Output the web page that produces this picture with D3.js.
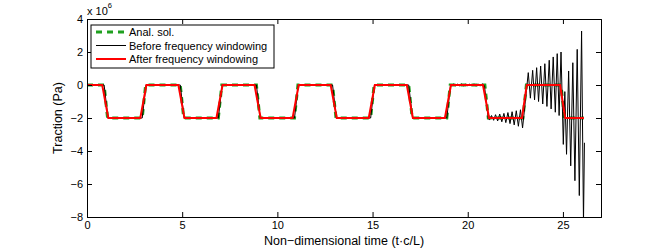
<!DOCTYPE html>
<html><head><meta charset="utf-8">
<script src="https://cdn.jsdelivr.net/npm/d3@7"></script>
<style>body{margin:0;background:#fff}svg{display:block}text{font-family:"Liberation Sans",Arial,Helvetica,sans-serif}</style>
</head><body><svg id="c" width="664" height="249"></svg>
<script>
// values in units of 1e6 Pa
const analT = [0,0.9,1.08,2.9,3.08,4.9,5.08,6.9,7.08,8.9,9.08,10.9,11.08,12.9,13.08,14.9,15.08,16.9,17.08,18.9,19.08,20.9,21.08,22.9,23.08,24.9,25.08,26.1];
const analV = [0,0,-2,-2,0,0,-2,-2,0,0,-2,-2,0,0,-2,-2,0,0,-2,-2,0,0,-2,-2,0,0,-2,-2];

const afterT = [0,0.8,1.12,2.8,3.12,4.8,5.12,6.8,7.12,8.8,9.12,10.8,11.12,12.8,13.12,14.8,15.12,16.8,17.12,18.8,19.12,20.8,21.12,22.85,23.1,24.85,25.12,26.1];
const afterV = [0,0,-2,-2,0,0,-2,-2,0,0,-2,-2,0,0,-2,-2,0,0,-2,-2,0,0,-2,-2,0,0,-2,-2];

const beforeT = [0,0.9,1.1,2.9,3.1,4.9,5.1,6.9,7.1,8.9,9.1,10.9,11.1,12.9,13.1,14.9,15.1,16.9,17.1,18.9,19.1,
  19.15,19.25,19.36,19.46,19.57,19.68,19.79,19.9,20.0,20.11,20.22,20.33,20.44,20.55,20.66,20.77,20.88,
  21.08,21.15,21.25,21.36,21.46,21.57,21.68,21.79,21.9,22.0,22.11,22.22,22.33,22.44,22.55,22.66,22.77,22.88,
  23.18,23.29,23.41,23.51,23.62,23.72,23.83,23.94,24.05,24.16,24.28,24.38,24.49,24.6,24.7,24.8,24.9,
  25.02,25.1,25.19,25.3,25.41,25.52,25.63,25.75,25.86,25.98,26.08,26.13];
const beforeV = [0,0,-2,-2,0,0,-2,-2,0,0,-2,-2,0,0,-2,-2,0,0,-2,-2,0.03,
  -0.04,0.05,-0.05,0.05,-0.05,0.06,-0.05,0.06,-0.06,0.06,-0.06,0.07,-0.07,0.07,-0.07,0.08,-0.06,
  -2.05,-2.1,-1.85,-2.14,-1.8,-2.18,-1.76,-2.23,-1.72,-2.28,-1.67,-2.34,-1.62,-2.42,-1.56,-2.5,-1.5,-2.6,
  0.75,-0.8,0.89,-0.9,1.05,-1.0,1.15,-1.15,1.29,-1.3,1.5,-1.45,1.7,-1.65,1.9,-1.85,2.0,
  -3.6,-0.4,-4.2,0.85,-4.9,1.35,-5.8,2.16,-6.7,3.27,-8.3,-3.5];

const xTicks = [0,5,10,15,20,25];
const yTicks = [-8,-6,-4,-2,0,2,4];
const legendLabels = ["Anal. sol.","Before frequency windowing","After frequency windowing"];

const svg = d3.select("#c");
const L=87,R=601,T=19,B=217;
const x = d3.scaleLinear().domain([0,27]).range([L,R]);
const y = d3.scaleLinear().domain([-8,4]).range([B,T]);

svg.append("clipPath").attr("id","clip").append("rect").attr("x",L).attr("y",T).attr("width",R-L).attr("height",B-T);

const line = d3.line().x(d=>x(d[0])).y(d=>y(d[1]));
const zip = (a,b)=>a.map((t,i)=>[t,b[i]]);
const g = svg.append("g").attr("clip-path","url(#clip)");
g.append("path").attr("d",line(zip(analT,analV))).attr("fill","none").attr("stroke","#1fa01f").attr("stroke-width",3).attr("stroke-dasharray","6,5");
g.append("path").attr("d",line(zip(beforeT,beforeV))).attr("fill","none").attr("stroke","#000").attr("stroke-width",1);
g.append("path").attr("d",line(zip(afterT,afterV))).attr("fill","none").attr("stroke","#ff0000").attr("stroke-width",2);

// axes box
const fmt = d3.format("d");
const ax = svg.append("g").attr("font-size",11);
ax.append("g").attr("transform",`translate(0,${B})`).call(d3.axisBottom(x).tickValues(xTicks).tickSize(-5).tickPadding(4).tickFormat(fmt));
ax.append("g").attr("transform",`translate(0,${T})`).call(d3.axisTop(x).tickValues(xTicks).tickSize(-5).tickFormat(""));
ax.append("g").attr("transform",`translate(${L},0)`).call(d3.axisLeft(y).tickValues(yTicks).tickSize(-5).tickPadding(4).tickFormat(d3.format("d")));
ax.append("g").attr("transform",`translate(${R},0)`).call(d3.axisRight(y).tickValues(yTicks).tickSize(-5).tickFormat(""));
ax.selectAll("text").attr("font-family","Liberation Sans, Arial, sans-serif").attr("fill","#000").attr("font-size",11);
ax.selectAll(".domain").attr("stroke","#000");
ax.selectAll(".tick line").attr("stroke","#000");

// exponent
const ex = svg.append("text").attr("x",87).attr("y",14.5).attr("font-size",11);
ex.append("tspan").text("x 10");
ex.append("tspan").attr("font-size",7.5).attr("dy",-7).text("6");

// labels
svg.append("text").attr("x",(L+R)/2).attr("y",245).attr("text-anchor","middle").attr("font-size",12.5).text("Non\u2212dimensional time (t\u00b7c/L)");
svg.append("text").attr("transform",`translate(62,${(T+B)/2}) rotate(-90)`).attr("text-anchor","middle").attr("font-size",12.5).text("Traction (Pa)");

// legend
const lg = svg.append("g");
lg.append("rect").attr("x",91).attr("y",25).attr("width",183).attr("height",43).attr("fill","#fff").attr("stroke","#000").attr("stroke-width",1);
const rows=[32,45.5,59];
const st=[{c:"#1fa01f",w:3,d:"6,5"},{c:"#000",w:1,d:null},{c:"#ff0000",w:2,d:null}];
legendLabels.forEach((s,i)=>{
  lg.append("line").attr("x1",96).attr("x2",126).attr("y1",rows[i]).attr("y2",rows[i]).attr("stroke",st[i].c).attr("stroke-width",st[i].w).attr("stroke-dasharray",st[i].d);
  lg.append("text").attr("x",129).attr("y",rows[i]+4).attr("font-size",11).text(s);
});
</script></body></html>
